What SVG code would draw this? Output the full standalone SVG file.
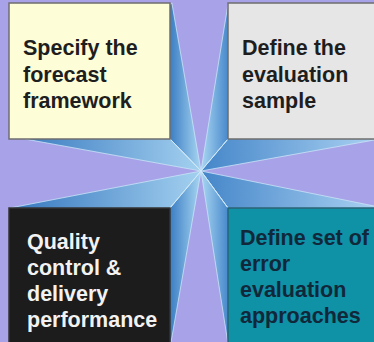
<svg xmlns="http://www.w3.org/2000/svg" width="374" height="342" viewBox="0 0 374 342">
  <defs>
    <!-- facet shading for the central star -->
    <linearGradient id="vLeft" gradientUnits="userSpaceOnUse" x1="170" y1="0" x2="200" y2="0">
      <stop offset="0" stop-color="#3b7ec4"/>
      <stop offset="1" stop-color="#a6d4f1"/>
    </linearGradient>
    <linearGradient id="vRight" gradientUnits="userSpaceOnUse" x1="202" y1="0" x2="228" y2="0">
      <stop offset="0" stop-color="#a6d4f1"/>
      <stop offset="1" stop-color="#4889cc"/>
    </linearGradient>
    <linearGradient id="hLeft" gradientUnits="userSpaceOnUse" x1="20" y1="0" x2="200" y2="0">
      <stop offset="0" stop-color="#3a7bc1"/>
      <stop offset="1" stop-color="#a3d0ef"/>
    </linearGradient>
    <linearGradient id="hRight" gradientUnits="userSpaceOnUse" x1="202" y1="0" x2="374" y2="0">
      <stop offset="0" stop-color="#4586c9"/>
      <stop offset="1" stop-color="#a8d0f1"/>
    </linearGradient>
    <style>
      .face { stroke: #c9e4f6; stroke-width: 0.8; stroke-linejoin: round; }
      .ridge { stroke: #d2eaf8; stroke-width: 1; fill: none; }
      .box { stroke-width: 1.5; }
      .lbl { font-family: "Liberation Sans", Arial, sans-serif; font-weight: bold; font-size: 21.5px; }
    </style>
  </defs>

  <rect width="374" height="342" fill="#a8a3e8"/>

  <!-- central star: four bevelled spikes meeting at (201,171) -->
  <g id="connectors">
    <!-- upper-left spike -->
    <polygon class="face" fill="url(#vLeft)" points="201,171 171.9,3 90,56"/>
    <polygon class="face" fill="url(#hLeft)" points="201,171 90,56 25,139"/>
    <!-- upper-right spike -->
    <polygon class="face" fill="url(#vRight)" points="201,171 228.2,3 298,56"/>
    <polygon class="face" fill="url(#hRight)" points="201,171 298,56 380,139"/>
    <!-- lower-left spike -->
    <polygon class="face" fill="url(#hLeft)" points="201,171 10,208 108,282"/>
    <polygon class="face" fill="url(#vLeft)" points="201,171 108,282 170,348"/>
    <!-- lower-right spike -->
    <polygon class="face" fill="url(#hRight)" points="201,171 384,208 282,282"/>
    <polygon class="face" fill="url(#vRight)" points="201,171 282,282 228.2,345"/>
    <!-- ridge highlights -->
    <path class="ridge" d="M201,171 L170,139 M201,171 L228,139 M201,171 L170,208 M201,171 L228,208"/>
  </g>

  <g id="node-specify">
    <rect class="box" x="9" y="3" width="161" height="136" fill="#fdfdd8" stroke="#6e6e6e"/>
    <text class="lbl" fill="#1e1e1e">
      <tspan x="23" y="55">Specify the</tspan>
      <tspan x="23" y="81.5">forecast</tspan>
      <tspan x="23" y="108">framework</tspan>
    </text>
  </g>

  <g id="node-sample">
    <rect class="box" x="228" y="3" width="150" height="136" fill="#e6e6e6" stroke="#6e6e6e"/>
    <text class="lbl" fill="#1e1e1e">
      <tspan x="242" y="55">Define the</tspan>
      <tspan x="242" y="81.5">evaluation</tspan>
      <tspan x="242" y="108">sample</tspan>
    </text>
  </g>

  <g id="node-quality">
    <rect class="box" x="9" y="208" width="161" height="140" fill="#1c1c1c" stroke="#333333"/>
    <text class="lbl" fill="#f2f2f2">
      <tspan x="27" y="249">Quality</tspan>
      <tspan x="27" y="275">control &amp;</tspan>
      <tspan x="27" y="301">delivery</tspan>
      <tspan x="27" y="327">performance</tspan>
    </text>
  </g>

  <g id="node-error">
    <rect class="box" x="228" y="208" width="150" height="140" fill="#0f91a6" stroke="#2b6476"/>
    <text class="lbl" fill="#11283a">
      <tspan x="240" y="245">Define set of</tspan>
      <tspan x="240" y="271">error</tspan>
      <tspan x="240" y="297">evaluation</tspan>
      <tspan x="240" y="323">approaches</tspan>
    </text>
  </g>
</svg>
